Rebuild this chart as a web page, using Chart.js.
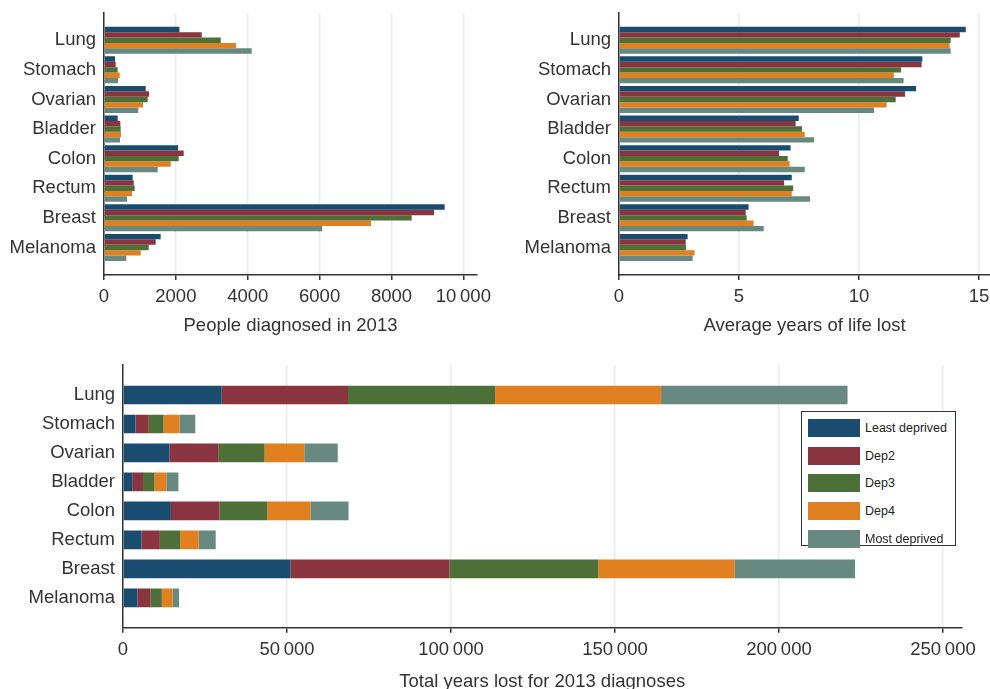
<!DOCTYPE html>
<html>
<head>
<meta charset="utf-8">
<title>Years of life lost by deprivation</title>
<script src="https://cdn.jsdelivr.net/npm/chart.js"></script>
<style>
  body { margin: 0; background: #fff; }
  #wrap { position: relative; width: 990px; height: 689px; overflow: hidden; }
  canvas { position: absolute; }
  #legend { position: absolute; left: 801px; top: 411px; width: 155px; height: 135px; box-sizing: border-box;
            border: 1px solid #333; background: #fff; font: 12.5px "Liberation Sans", Arial, sans-serif; color: #222; }
  .item { position: absolute; left: 6px; height: 18px; width: 145px; }
  .sw { position: absolute; left: 0; top: 0; width: 52px; height: 18px; }
  .lb { position: absolute; left: 57px; top: 0; line-height: 18px; white-space: nowrap; }
</style>
</head>
<body>
<div id="wrap">
  <canvas id="diagCanvas" width="495" height="345" style="left:0;top:0"></canvas>
  <canvas id="avgCanvas" width="495" height="345" style="left:495px;top:0"></canvas>
  <canvas id="totalCanvas" width="990" height="348" style="left:0;top:345px"></canvas>
  <div id="legend"></div>
</div>
<script>
const categories = ["Lung", "Stomach", "Ovarian", "Bladder", "Colon", "Rectum", "Breast", "Melanoma"];
const groups = ["Least deprived", "Dep2", "Dep3", "Dep4", "Most deprived"];
const colours = ["#1a4c70", "#8a3440", "#4c7038", "#e08020", "#68897f"];

// people diagnosed in 2013
const diagLeast = [2100, 306, 1160, 381, 2060, 798, 9480, 1577];
const diagDep2  = [2720, 325, 1252, 454, 2218, 826, 9184, 1439];
const diagDep3  = [3248, 381, 1216, 464, 2078, 853, 8563, 1244];
const diagDep4  = [3674, 437, 1085, 473, 1856, 779, 7431, 1021];
const diagMost  = [4110, 390, 955, 445, 1494, 640, 6067, 621];

// average years of life lost
const avgLeast = [14.45, 12.64, 12.38, 7.49, 7.15, 7.20, 5.40, 2.86];
const avgDep2  = [14.20, 12.61, 11.92, 7.36, 6.67, 6.88, 5.28, 2.78];
const avgDep3  = [13.82, 11.75, 11.53, 7.63, 7.03, 7.26, 5.32, 2.79];
const avgDep4  = [13.78, 11.45, 11.15, 7.74, 7.11, 7.20, 5.61, 3.15];
const avgMost  = [13.82, 11.86, 10.63, 8.13, 7.74, 7.96, 6.03, 3.07];

// total years lost for 2013 diagnoses
const totLeast = [30100, 3800, 14200, 2800, 14600, 5650, 51100, 4420];
const totDep2  = [38500, 4070, 15000, 3290, 14820, 5580, 48430, 4020];
const totDep3  = [44850, 4480, 13970, 3500, 14570, 6190, 45350, 3400];
const totDep4  = [50600, 4930, 12100, 3600, 13200, 5650, 41600, 3300];
const totMost  = [56850, 4750, 10200, 3700, 11580, 5200, 36700, 1930];

const diagTicks = [0, 2000, 4000, 6000, 8000, 10000];
const avgTicks = [0, 5, 10, 15];
const totTicks = [0, 50000, 100000, 150000, 200000, 250000];

Chart.defaults.font.family = '"Liberation Sans", Arial, sans-serif';
Chart.defaults.color = "#333";

function toPoints(values) {
  return values.map((v, i) => ({ x: v, y: i }));
}

function fmt(v) {
  if (v < 10000) return String(v);
  return String(v).replace(/\B(?=(\d{3})+(?!\d))/g, "\u2009");
}

function makeChart(id, series, o) {
  return new Chart(document.getElementById(id), {
    type: "bar",
    data: {
      datasets: series.map((vals, k) => ({
        label: groups[k],
        data: toPoints(vals),
        backgroundColor: colours[k],
        borderWidth: 0,
        categoryPercentage: o.catPct,
        barPercentage: 1
      }))
    },
    options: {
      indexAxis: "y",
      responsive: false,
      animation: false,
      layout: { padding: o.padding },
      plugins: { legend: { display: false }, tooltip: { enabled: false } },
      scales: {
        x: {
          type: "linear",
          stacked: o.stacked,
          min: 0,
          max: o.xMax,
          afterBuildTicks: s => { s.ticks = o.xTicks.map(v => ({ value: v })); },
          afterFit: s => { s.height = o.xHeight; s.paddingLeft = 0; s.paddingRight = 0; },
          grid: { color: "#ebebeb", lineWidth: 1.5, tickLength: 5, tickColor: "#333", tickWidth: 1.5 },
          border: { color: "#333", width: 1.5 },
          ticks: { padding: 6, maxRotation: 0, autoSkip: false, font: { size: 18.5 }, callback: v => fmt(v) },
          title: { display: true, text: o.xTitle, font: { size: 18.5 }, padding: { top: 0, bottom: o.titlePad } }
        },
        y: {
          type: "linear",
          stacked: o.stacked,
          reverse: true,
          offset: false,
          min: o.yMin,
          max: o.yMax,
          afterBuildTicks: s => { s.ticks = categories.map((c, i) => ({ value: i })); },
          afterFit: s => { s.width = o.yWidth; s.paddingTop = 0; s.paddingBottom = 0; },
          grid: { display: false, drawTicks: false, offset: false },
          border: { color: "#333", width: 1.5 },
          ticks: { padding: 8, autoSkip: false, font: { size: 18.5 }, callback: v => categories[v] }
        }
      }
    }
  });
}

makeChart("diagCanvas", [diagLeast, diagDep2, diagDep3, diagDep4, diagMost], {
  stacked: false, catPct: 0.912, xMax: 10380, xTicks: diagTicks, xTitle: "People diagnosed in 2013",
  padding: { left: 0, top: 12.7, right: 18, bottom: 8 }, xHeight: 62, yWidth: 104,
  yMin: -0.93, yMax: 7.93, titlePad: 0
});

makeChart("avgCanvas", [avgLeast, avgDep2, avgDep3, avgDep4, avgMost], {
  stacked: false, catPct: 0.912, xMax: 15.46, xTicks: avgTicks, xTitle: "Average years of life lost",
  padding: { left: 0, top: 12.7, right: 0, bottom: 8 }, xHeight: 62, yWidth: 124,
  yMin: -0.93, yMax: 7.93, titlePad: 0
});

makeChart("totalCanvas", [totLeast, totDep2, totDep3, totDep4, totMost], {
  stacked: true, catPct: 0.645, xMax: 255640, xTicks: totTicks, xTitle: "Total years lost for 2013 diagnoses",
  padding: { left: 0, top: 20, right: 28.5, bottom: 0 }, xHeight: 65.3, yWidth: 123,
  yMin: -1.035, yMax: 8.03, titlePad: 0
});

// boxed legend inside the lower panel
const legend = document.getElementById("legend");
groups.forEach((g, k) => {
  const item = document.createElement("div");
  item.className = "item";
  item.style.top = (7 + k * 27.7) + "px";
  item.innerHTML = '<div class="sw" style="background:' + colours[k] + '"></div><div class="lb">' + g + '</div>';
  legend.appendChild(item);
});
</script>
</body>
</html>
